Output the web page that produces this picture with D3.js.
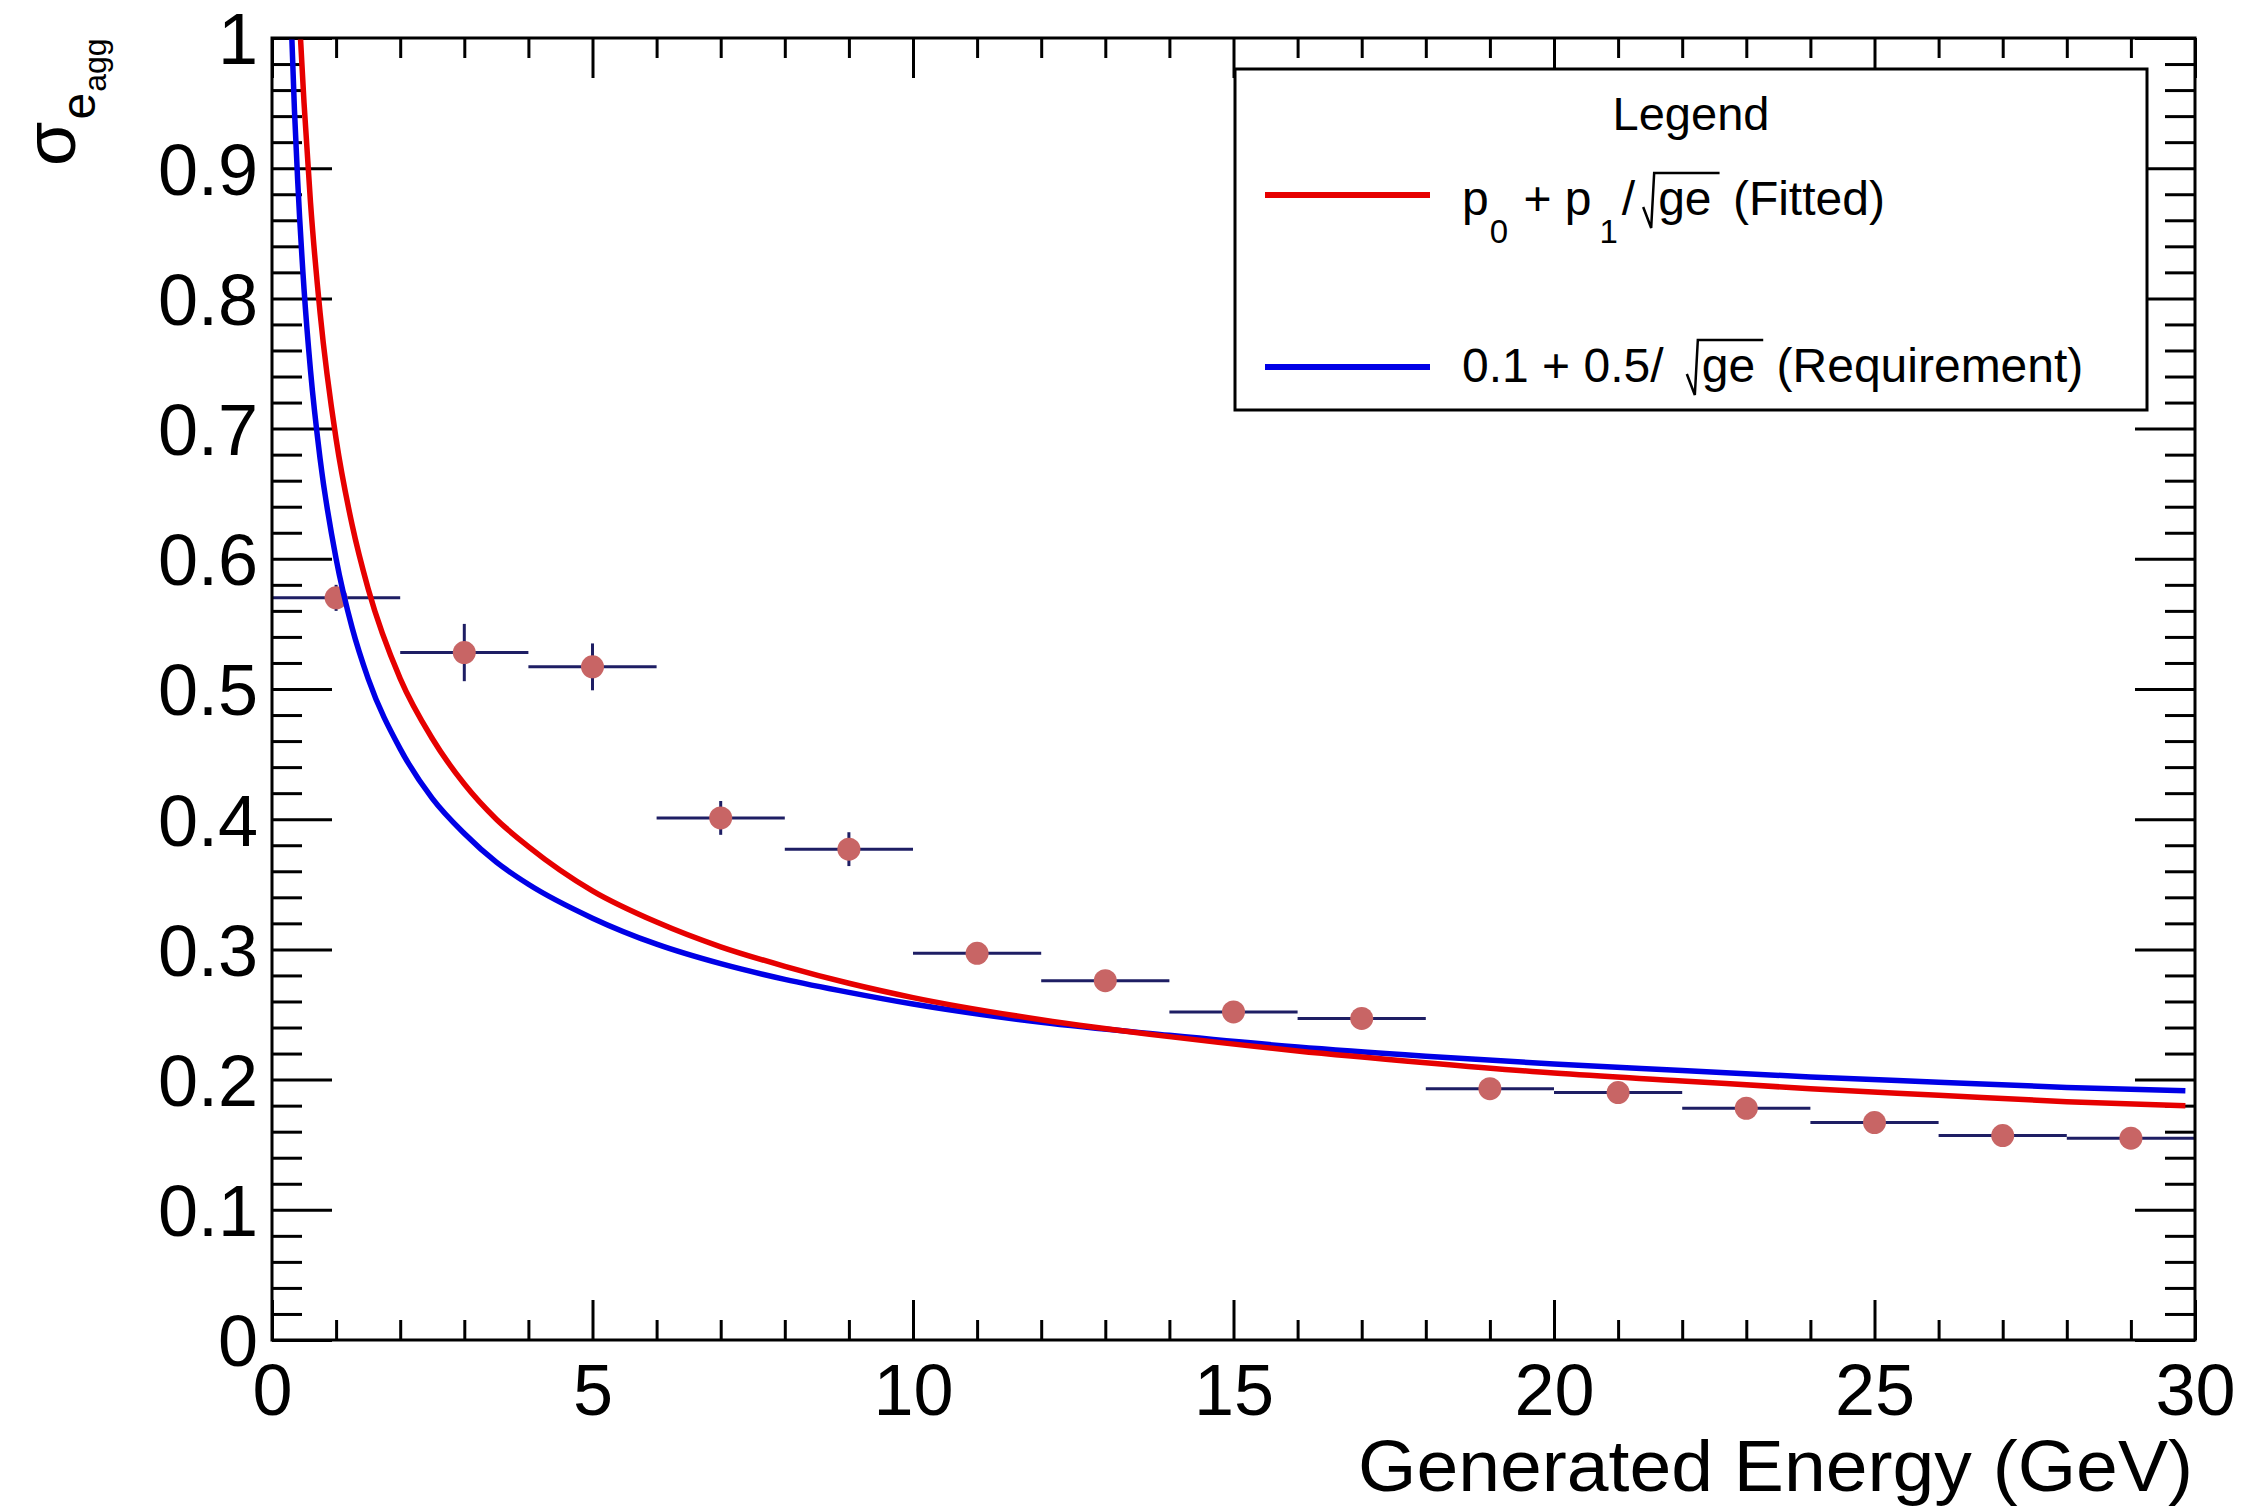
<!DOCTYPE html>
<html><head><meta charset="utf-8">
<script src="https://cdn.jsdelivr.net/npm/d3@7"></script>
<style>
body{margin:0;background:#fff}
text{font-family:"Liberation Sans",Arial,Helvetica,sans-serif;fill:#000}
</style>
</head><body>
<svg id="chart" width="2243" height="1507"></svg>
<script>
// ---------------- data ----------------
const binEdgesLow  = [0, 2, 4, 6, 8, 10, 12, 14, 16, 18, 20, 22, 24, 26, 28];
const binEdgesHigh = [2, 4, 6, 8, 10, 12, 14, 16, 18, 20, 22, 24, 26, 28, 30];
const energy       = [1, 3, 5, 7, 9, 11, 13, 15, 17, 19, 21, 23, 25, 27, 29];
const sigma        = [0.570, 0.528, 0.517, 0.401, 0.377, 0.297, 0.276, 0.252, 0.247, 0.193, 0.190, 0.178, 0.167, 0.157, 0.155];
const sigmaErr     = [0.010, 0.022, 0.018, 0.013, 0.013, 0.008, 0.007, 0.006, 0.006, 0.005, 0.005, 0.005, 0.005, 0.004, 0.004];

// fitted curve (red)
const fitX = [0.40, 0.45, 0.5, 0.6, 0.75, 1.0, 1.25, 1.5, 2.0, 2.5, 3.0, 3.5, 4.0, 5.0, 6.0, 7.0, 8.0, 9.0, 10, 12, 14, 16, 18, 20, 22, 24, 26, 28, 29.85];
const fitY = [1.040, 0.995, 0.950, 0.874, 0.789, 0.692, 0.626, 0.577, 0.508, 0.462, 0.427, 0.400, 0.379, 0.345, 0.321, 0.302, 0.287, 0.274, 0.263, 0.246, 0.233, 0.222, 0.213, 0.205, 0.199, 0.193, 0.188, 0.183, 0.180];
// requirement curve (blue)
const reqX = [0.28, 0.30, 0.35, 0.40, 0.5, 0.6, 0.75, 1.0, 1.25, 1.5, 2.0, 2.5, 3.0, 3.5, 4.0, 5.0, 6.0, 7.0, 8.0, 9.0, 10, 12, 14, 16, 18, 20, 22, 24, 26, 28, 29.85];
const reqY = [1.045, 1.013, 0.945, 0.891, 0.807, 0.745, 0.677, 0.600, 0.547, 0.508, 0.454, 0.416, 0.389, 0.367, 0.350, 0.324, 0.304, 0.289, 0.277, 0.267, 0.258, 0.244, 0.234, 0.225, 0.218, 0.212, 0.207, 0.202, 0.198, 0.194, 0.1915];

const xMajorTicks = [0, 5, 10, 15, 20, 25, 30];
const xMinorTicks = d3.range(0, 31, 1).filter(v => v % 5 !== 0);
const yMajorTicks = [0, 0.1, 0.2, 0.3, 0.4, 0.5, 0.6, 0.7, 0.8, 0.9, 1];
const yTickLabels = ["0", "0.1", "0.2", "0.3", "0.4", "0.5", "0.6", "0.7", "0.8", "0.9", "1"];
const yMinorTicks = d3.range(0, 51, 1).filter(i => i % 5 !== 0).map(i => i / 50);

const xTitle = "Generated Energy (GeV)";
const legendTitle = "Legend";

// ---------------- layout ----------------
const W = 2243, H = 1507;
const P = {left: 272, right: 2195, top: 38, bottom: 1340};
const svg = d3.select("#chart");
svg.append("rect").attr("width", W).attr("height", H).attr("fill", "#fff");

const x = d3.scaleLinear().domain([0, 30]).range([P.left, P.right]);
const y = d3.scaleLinear().domain([0, 1]).range([P.bottom, P.top]);

const LABEL_FS = 72;
const TICK_W = 3;

function styleAxis(g) {
  g.select(".domain").remove();
  g.selectAll(".tick line").attr("stroke", "#000").attr("stroke-width", TICK_W);
  g.selectAll(".tick text").attr("font-size", LABEL_FS).attr("fill", "#000")
    .attr("font-family", '"Liberation Sans",Arial,Helvetica,sans-serif');
}

// bottom axis
svg.append("g").attr("transform", `translate(0,${P.bottom})`)
  .call(d3.axisBottom(x).tickValues(xMajorTicks).tickFormat(d3.format("d"))
    .tickSizeInner(-40).tickSizeOuter(0).tickPadding(24))
  .call(styleAxis);
svg.append("g").attr("transform", `translate(0,${P.bottom})`)
  .call(d3.axisBottom(x).tickValues(xMinorTicks).tickFormat("").tickSizeInner(-20).tickSizeOuter(0))
  .call(styleAxis);
// top axis
svg.append("g").attr("transform", `translate(0,${P.top})`)
  .call(d3.axisTop(x).tickValues(xMajorTicks).tickFormat("").tickSizeInner(-40).tickSizeOuter(0))
  .call(styleAxis);
svg.append("g").attr("transform", `translate(0,${P.top})`)
  .call(d3.axisTop(x).tickValues(xMinorTicks).tickFormat("").tickSizeInner(-20).tickSizeOuter(0))
  .call(styleAxis);
// left axis
const yLeft = svg.append("g").attr("transform", `translate(${P.left},0)`)
  .call(d3.axisLeft(y).tickValues(yMajorTicks).tickFormat((d, i) => yTickLabels[i])
    .tickSizeInner(-60).tickSizeOuter(0).tickPadding(14))
  .call(styleAxis);
yLeft.selectAll(".tick text").attr("dy", "0.36em");
svg.append("g").attr("transform", `translate(${P.left},0)`)
  .call(d3.axisLeft(y).tickValues(yMinorTicks).tickFormat("").tickSizeInner(-30).tickSizeOuter(0))
  .call(styleAxis);
// right axis
svg.append("g").attr("transform", `translate(${P.right},0)`)
  .call(d3.axisRight(y).tickValues(yMajorTicks).tickFormat("").tickSizeInner(-60).tickSizeOuter(0))
  .call(styleAxis);
svg.append("g").attr("transform", `translate(${P.right},0)`)
  .call(d3.axisRight(y).tickValues(yMinorTicks).tickFormat("").tickSizeInner(-30).tickSizeOuter(0))
  .call(styleAxis);

// clip
svg.append("clipPath").attr("id", "plotClip").append("rect")
  .attr("x", P.left).attr("y", P.top).attr("width", P.right - P.left).attr("height", P.bottom - P.top);

// data points with error bars
const pts = energy.map((e, i) => ({e, s: sigma[i], err: sigmaErr[i], lo: binEdgesLow[i], hi: binEdgesHigh[i]}));
const ERR_COLOR = "#1e1e64";
const pg = svg.append("g").attr("clip-path", "url(#plotClip)");
pg.selectAll("line.hbar").data(pts).join("line").attr("class", "hbar")
  .attr("x1", d => x(d.lo)).attr("x2", d => x(d.hi))
  .attr("y1", d => y(d.s)).attr("y2", d => y(d.s))
  .attr("stroke", ERR_COLOR).attr("stroke-width", 3);
pg.selectAll("line.vbar").data(pts).join("line").attr("class", "vbar")
  .attr("x1", d => x(d.e)).attr("x2", d => x(d.e))
  .attr("y1", d => y(d.s - d.err)).attr("y2", d => y(d.s + d.err))
  .attr("stroke", ERR_COLOR).attr("stroke-width", 3);
pg.selectAll("circle").data(pts).join("circle")
  .attr("cx", d => x(d.e)).attr("cy", d => y(d.s)).attr("r", 11.5)
  .attr("fill", "#c86565");

// curves
const line = d3.line().x(d => x(d[0])).y(d => y(d[1])).curve(d3.curveMonotoneX);
const cg = svg.append("g").attr("clip-path", "url(#plotClip)");
cg.append("path").datum(reqX.map((v, i) => [v, reqY[i]])).attr("d", line)
  .attr("fill", "none").attr("stroke", "#0000e6").attr("stroke-width", 5.5);
cg.append("path").datum(fitX.map((v, i) => [v, fitY[i]])).attr("d", line)
  .attr("fill", "none").attr("stroke", "#e60000").attr("stroke-width", 5.5);

// frame
svg.append("rect").attr("x", P.left).attr("y", P.top)
  .attr("width", P.right - P.left).attr("height", P.bottom - P.top)
  .attr("fill", "none").attr("stroke", "#000").attr("stroke-width", 3);

// x title
svg.append("text").attr("x", 2193).attr("y", 1491).attr("text-anchor", "end")
  .attr("font-size", 72).attr("textLength", 835).attr("lengthAdjust", "spacingAndGlyphs")
  .text(xTitle);

// y title: sigma_{e_{agg}} rotated
const yt = svg.append("g").attr("transform", "translate(75,166) rotate(-90)");
const sig = yt.append("text").attr("x", 0).attr("y", 0).attr("font-size", 72).text("σ");
const sigW = sig.node().getComputedTextLength();
const sub1 = yt.append("text").attr("x", sigW + 2).attr("y", 20).attr("font-size", 48).text("e");
const subW = sub1.node().getComputedTextLength();
yt.append("text").attr("x", sigW + subW + 3).attr("y", 31).attr("font-size", 32).text("agg");

// ---------------- legend ----------------
const L = {x: 1235, y: 69, w: 912, h: 341};
svg.append("rect").attr("x", L.x).attr("y", L.y).attr("width", L.w).attr("height", L.h)
  .attr("fill", "#fff").attr("stroke", "#000").attr("stroke-width", 3);
svg.append("text").attr("x", L.x + L.w / 2).attr("y", 130).attr("text-anchor", "middle")
  .attr("font-size", 47).text(legendTitle);

const LEG_FS = 48, SUB_FS = 33;
const legendEntries = [
  {color: "#e60000", lineY: 195, base: 215,
   parts: [{t: "p"}, {t: "0", sub: true, gap: 1}, {t: " + p", gap: 2}, {t: "1", sub: true, gap: 8}, {t: "/", gap: 4}, {sqrt: "ge", gap: 8}, {t: " (Fitted)", gap: 8}]},
  {color: "#0000e6", lineY: 367, base: 382,
   parts: [{t: "0.1 + 0.5/ "}, {sqrt: "ge", gap: 10}, {t: " (Requirement)", gap: 8}]}
];
legendEntries.forEach(ent => {
  svg.append("line").attr("x1", 1265).attr("x2", 1430).attr("y1", ent.lineY).attr("y2", ent.lineY)
    .attr("stroke", ent.color).attr("stroke-width", 6);
  let cx = 1462;
  ent.parts.forEach(p => {
    cx += (p.gap || 0);
    if (p.sqrt) {
      const x0 = cx;
      const tx = svg.append("text").attr("x", x0 + 15).attr("y", ent.base).attr("font-size", LEG_FS).text(p.sqrt);
      const tw = tx.node().getComputedTextLength();
      svg.append("path")
        .attr("d", `M${x0},${ent.base - 8} L${x0 + 8},${ent.base + 13} L${x0 + 11},${ent.base - 42} L${x0 + 15 + tw + 8},${ent.base - 42}`)
        .attr("fill", "none").attr("stroke", "#000").attr("stroke-width", 2.5);
      cx = x0 + 15 + tw;
    } else {
      const te = svg.append("text").attr("x", cx).attr("y", p.sub ? ent.base + 28 : ent.base)
        .attr("font-size", p.sub ? SUB_FS : LEG_FS).attr("xml:space", "preserve")
        .style("white-space", "pre").text(p.t);
      cx += te.node().getComputedTextLength();
    }
  });
});
</script>
</body></html>
